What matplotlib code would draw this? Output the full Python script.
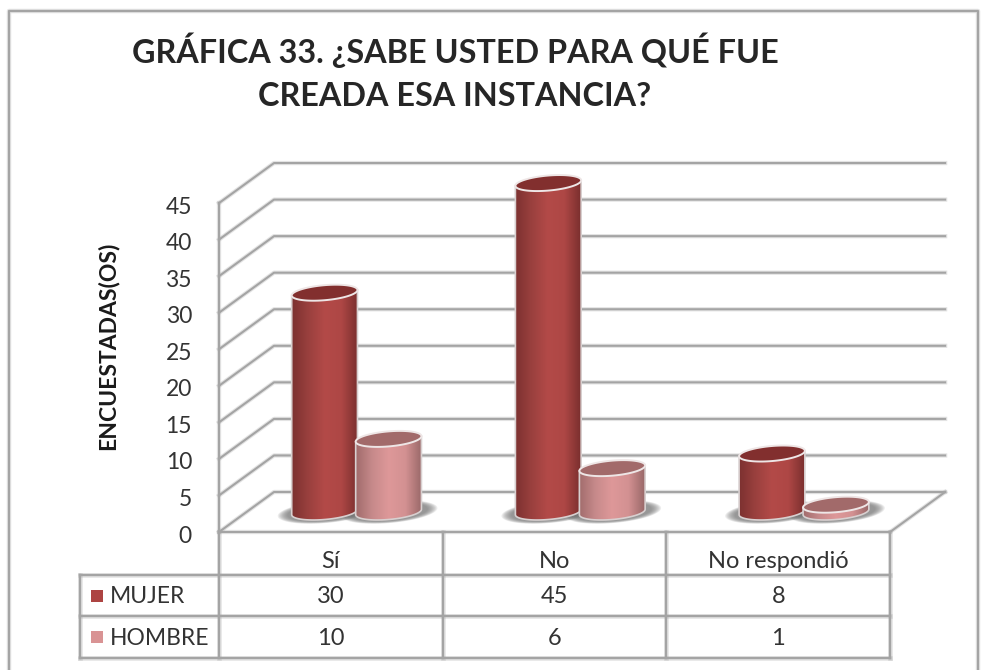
import numpy as np
import matplotlib
matplotlib.use('Agg')
import matplotlib.pyplot as plt
from matplotlib.colors import LinearSegmentedColormap
from matplotlib.patches import Polygon

plt.rcParams['font.family'] = ['Lato', 'DejaVu Sans']

categories = ['Sí', 'No', 'No respondió']
mujer = [30, 45, 8]
hombre = [10, 6, 1]
series_names = ['MUJER', 'HOMBRE']
y_ticks = [0, 5, 10, 15, 20, 25, 30, 35, 40, 45]

W, H = 991, 670
CAT_W = 223.7    # px per category
UNIT = 7.31      # px per value unit
X0, Y0 = 219, 532
GREY = '#a4a4a4'
TEXT = '#333333'

fig = plt.figure(figsize=(W / 100, H / 100), dpi=100)
ax = fig.add_axes([0, 0, 1, 1])
ax.set_xlim(-X0 / CAT_W, (W - X0) / CAT_W)
ax.set_ylim((Y0 - H) / UNIT, Y0 / UNIT)
ax.axis('off')

# depth of the 3d box, in data units
DX = 55 / CAT_W
DY = 40 / UNIT
# sizes in px -> data
px = 1 / CAT_W
py = 1 / UNIT


def line(xs, ys, lw=1.5, z=1):
    # soft halo under the line, the source image is a blurry screenshot
    ax.plot(xs, ys, color=GREY, lw=lw + 1.6, alpha=0.3, solid_capstyle='projecting', zorder=z)
    ax.plot(xs, ys, color=GREY, lw=lw, solid_capstyle='projecting', zorder=z)


def ellipse_xy(cx, cy, a, b, tilt=-5):
    # ellipse drawn in px space so the tilt is not sheared by the axes scale
    t = np.linspace(0, 2 * np.pi, 160)
    th = np.radians(tilt)
    ex = a * np.cos(t) * np.cos(th) - b * np.sin(t) * np.sin(th)
    ey = a * np.cos(t) * np.sin(th) + b * np.sin(t) * np.cos(th)
    return cx + ex * px, cy - ey * py


def cylinder(cx, value, cmap, top_col, z):
    a, b = 33, 7.5
    base = 20 * py
    top = base + value
    # ground shadow
    for k in np.linspace(1.0, 0.8, 9):
        sx, sy = ellipse_xy(cx + 1 * px, base, (a + 15) * k, (b + 3.5) * k)
        ax.fill(sx, sy, color='#707070', alpha=0.13, lw=0, zorder=2)
    # body with horizontal gradient, clipped to the cylinder outline
    bx, by = ellipse_xy(cx, base, a, b)
    tx, ty = ellipse_xy(cx, top, a, b)
    i_l, i_r = np.argmin(bx), np.argmax(bx)
    # lower arc of the base, from the left extreme to the right extreme
    idx = np.arange(len(bx))
    arc = np.r_[idx[i_l:], idx[:i_r + 1]] if i_l > i_r else idx[i_l:i_r + 1]
    if by[arc].mean() > base:
        arc = idx[i_r:i_l + 1][::-1] if i_l > i_r else np.r_[idx[i_r:], idx[:i_l + 1]][::-1]
    left, right = bx[i_l], bx[i_r]
    vx = list(bx[arc]) + [tx[i_r], tx[i_l]]
    vy = list(by[arc]) + [ty[i_r], ty[i_l]]
    outline = Polygon(np.column_stack([vx, vy]), closed=True, transform=ax.transData,
                      fc='none', ec='#d8d0d0', lw=1.2, zorder=z + 0.1)
    grad = np.linspace(0, 1, 256).reshape(1, -1)
    im = ax.imshow(grad, cmap=cmap, extent=[left, right, base - 2 * b * py, top + 2 * b * py],
                   aspect='auto', zorder=z, interpolation='bilinear')
    ax.add_patch(outline)
    im.set_clip_path(outline)
    # top cap
    ax.fill(tx, ty, fc=top_col, ec='#eee6e6', lw=1.4, zorder=z + 0.2)


red = LinearSegmentedColormap.from_list('r', ['#7c3130', '#9a403e', '#b34a48', '#ae4745', '#7a2f2e'])
pink = LinearSegmentedColormap.from_list('p', ['#a16c6c', '#c78a8b', '#de9899', '#d39192', '#996868'])
RED_TOP = '#822f2e'
PINK_TOP = '#a26a6a'

# outer chart frame
frame_x = [(9 - X0) * px, (978 - X0) * px]
line([frame_x[0], frame_x[0], frame_x[1], frame_x[1]],
     [(Y0 - H - 5) * py, (Y0 - 11) * py, (Y0 - 11) * py, (Y0 - H - 5) * py], lw=1.6)

# back wall gridlines and side wall diagonals
n = len(categories)
for v in y_ticks:
    line([0, DX, n + DX], [v, v + DY, v + DY])
line([0, 0], [0, y_ticks[-1]])
line([n, n + DX], [0, DY])
line([0, n], [0, 0])

# y tick labels
for v in y_ticks:
    ax.text(-27 * px, v - 0.55, str(v), ha='right', va='center', fontsize=16.5, color=TEXT)
ax.text((108 - X0) * px, (Y0 - 346) * py, 'ENCUESTADAS(OS)', rotation=90, ha='center', va='center',
        fontsize=16.5, fontweight='bold', color='#1a1a1a')

# cylinders
offs = [0.472, 0.758]
for i in range(n):
    cylinder(i + offs[0], mujer[i], red, RED_TOP, 3)
    cylinder(i + offs[1], hombre[i], pink, PINK_TOP, 4)

# data table
row_y = [0, (Y0 - 575) * py, (Y0 - 616) * py, (Y0 - 658) * py]
left_x = (80 - X0) * px
for i in range(n + 1):
    line([i, i], [row_y[0], row_y[3]], lw=1.7)
for ry in row_y[1:]:
    line([left_x, n], [ry, ry], lw=1.7)
line([left_x, left_x], [row_y[1], row_y[3]], lw=1.7)

for i in range(n):
    ax.text(i + 0.5, (row_y[0] + row_y[1]) / 2 - 1.1, categories[i], ha='center', va='center',
            fontsize=17, color=TEXT)
    ax.text(i + 0.5, (row_y[1] + row_y[2]) / 2 - 0.2, str(mujer[i]), ha='center', va='center',
            fontsize=17, color=TEXT)
    ax.text(i + 0.5, (row_y[2] + row_y[3]) / 2 - 0.2, str(hombre[i]), ha='center', va='center',
            fontsize=17, color=TEXT)

# legend keys inside the table
for k, (name, col) in enumerate(zip(series_names, ['#ad4442', '#d99394'])):
    ym = (row_y[k + 1] + row_y[k + 2]) / 2
    ax.scatter([(97 - X0) * px], [ym], marker='s', s=78, color=col, lw=0, zorder=3)
    ax.text((110 - X0) * px, ym - 0.2, name, ha='left', va='center', fontsize=16.5, color=TEXT)

# title
ax.text((455 - X0) * px, (Y0 - 50) * py, 'GRÁFICA 33. ¿SABE USTED PARA QUÉ FUE', ha='center', va='center',
        fontsize=23.3, fontweight='bold', color='#262626')
ax.text((455 - X0) * px, (Y0 - 96) * py, 'CREADA ESA INSTANCIA?', ha='center', va='center',
        fontsize=23.3, fontweight='bold', color='#262626')

fig.savefig('out.png', dpi=100, facecolor='white')
